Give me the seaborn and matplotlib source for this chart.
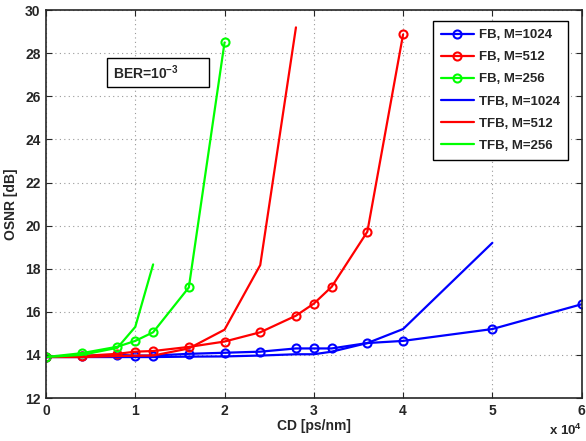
import matplotlib
matplotlib.use("Agg")
import matplotlib.pyplot as plt
from matplotlib.patches import Rectangle
import seaborn as sns

# CD in units of 1e4 ps/nm, OSNR in dB
fb1024_x = [0, 0.4, 0.8, 1.0, 1.2, 1.6, 2.0, 2.4, 2.8, 3.0, 3.2, 3.6, 4.0, 5.0, 6.0]
fb1024_y = [13.9, 13.95, 14.0, 13.97, 13.97, 14.05, 14.1, 14.15, 14.3, 14.3, 14.3, 14.55, 14.65, 15.2, 16.35]

fb512_x = [0, 0.4, 0.8, 1.0, 1.2, 1.6, 2.0, 2.4, 2.8, 3.0, 3.2, 3.6, 4.0]
fb512_y = [13.9, 13.95, 14.05, 14.15, 14.18, 14.37, 14.62, 15.05, 15.82, 16.38, 17.16, 19.72, 28.87]

fb256_x = [0, 0.4, 0.8, 1.0, 1.2, 1.6, 2.0]
fb256_y = [13.9, 14.08, 14.38, 14.65, 15.05, 17.13, 28.5]

tfb1024_x = [0, 0.4, 0.8, 1.2, 1.6, 2.0, 2.4, 2.8, 3.0, 3.2, 3.6, 4.0, 5.0]
tfb1024_y = [13.9, 13.9, 13.9, 13.9, 13.92, 13.93, 13.97, 14.03, 14.03, 14.15, 14.55, 15.2, 19.2]

tfb512_x = [0, 0.4, 0.8, 1.2, 1.6, 2.0, 2.4, 2.8]
tfb512_y = [13.9, 13.9, 13.95, 13.97, 14.3, 15.17, 18.17, 29.2]

tfb256_x = [0, 0.4, 0.8, 1.0, 1.2]
tfb256_y = [13.9, 14.0, 14.33, 15.3, 18.2]

sns.set_style("ticks")
plt.rcParams["font.family"] = ["Liberation Sans", "DejaVu Sans"]
plt.rcParams["font.weight"] = "bold"
plt.rcParams["mathtext.fontset"] = "custom"
plt.rcParams["mathtext.rm"] = "Liberation Sans:bold"
plt.rcParams["mathtext.bf"] = "Liberation Sans:bold"
plt.rcParams["mathtext.it"] = "Liberation Sans:bold"

fig = plt.figure(figsize=(5.86, 4.41), dpi=100)
ax = fig.add_axes([0.0785, 0.0975, 0.914, 0.8795])

blue, red, green = "#0000ff", "#ff0000", "#00ff00"
mk = dict(marker="o", markersize=5.8, markerfacecolor="none", markeredgewidth=1.5)

series = [
    (fb1024_x, fb1024_y, blue, "FB, M=1024", True),
    (fb512_x, fb512_y, red, "FB, M=512", True),
    (fb256_x, fb256_y, green, "FB, M=256", True),
    (tfb1024_x, tfb1024_y, blue, "TFB, M=1024", False),
    (tfb512_x, tfb512_y, red, "TFB, M=512", False),
    (tfb256_x, tfb256_y, green, "TFB, M=256", False),
]
for x, y, c, lab, circ in series:
    kw = dict(mk, markeredgecolor=c) if circ else {}
    sns.lineplot(x=x, y=y, color=c, linewidth=1.6, label=lab, ax=ax,
                 sort=False, estimator=None, **kw)

ax.set_xlim(0, 6)
ax.set_ylim(12, 30)
ax.set_xticks(range(0, 7))
ax.set_yticks(range(12, 31, 2))
ax.tick_params(direction="in", top=True, right=True, labelsize=10, length=4, pad=4)
for lbl in ax.get_xticklabels() + ax.get_yticklabels():
    lbl.set_fontweight("bold")
ax.grid(True, linestyle=(0, (1, 3)), color="#999999", linewidth=0.8)
for s in ax.spines.values():
    s.set_linewidth(1.2)

ax.set_xlabel("CD [ps/nm]", fontsize=10, fontweight="bold", labelpad=1)
ax.set_ylabel("OSNR [dB]", fontsize=10, fontweight="bold", labelpad=5)

leg = ax.legend(loc="upper right", bbox_to_anchor=(0.975, 0.972), borderaxespad=0,
                fontsize=9.5, handlelength=2.5, handletextpad=0.4,
                labelspacing=0.75, borderpad=0.6,
                fancybox=False, framealpha=1, edgecolor="black")
leg.get_frame().set_linewidth(1.0)
for t in leg.get_texts():
    t.set_fontweight("bold")

ax.add_patch(Rectangle((0.1134, 0.8015), 0.1916, 0.0745, transform=ax.transAxes,
                       facecolor="white", edgecolor="black", linewidth=1.0, zorder=5))
ax.text(0.1245, 0.839, "BER=10$^{-3}$", transform=ax.transAxes, fontsize=10,
        fontweight="bold", va="center", ha="left", zorder=6)

fig.text(0.994, 0.013, "x 10$^{4}$", fontsize=9.5, fontweight="bold", ha="right")

fig.savefig("out.png", dpi=100)
